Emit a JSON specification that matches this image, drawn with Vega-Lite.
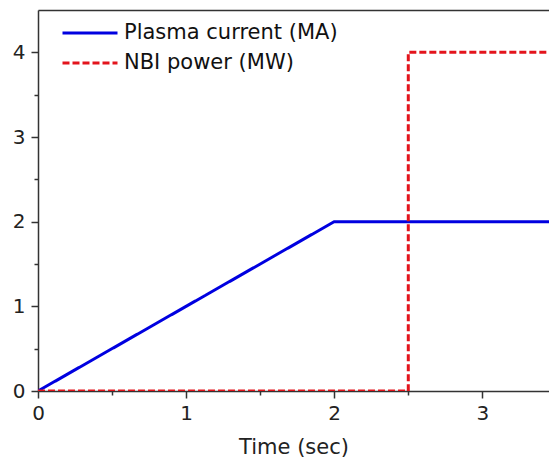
{
  "$schema": "https://vega.github.io/schema/vega-lite/v6.json",
  "autosize": "none",
  "width": 511,
  "height": 381,
  "padding": {"left": 38, "top": 10, "right": 0, "bottom": 77},
  "background": "white",
  "config": {
    "view": {"stroke": null},
    "font": "DejaVu Sans",
    "axis": {
      "grid": false,
      "labelFlush": false,
      "domainColor": "#333333",
      "domainWidth": 1.5,
      "tickColor": "#333333",
      "tickWidth": 1.5,
      "labelColor": "#222222",
      "titleColor": "#222222",
      "labelFont": "DejaVu Sans",
      "titleFont": "DejaVu Sans",
      "labelFontSize": 20,
      "titleFontSize": 21,
      "titleFontWeight": "normal"
    }
  },
  "data": {
    "values": [
      {"t": 0, "v": 0, "series": "Plasma current (MA)", "i": 0},
      {"t": 2, "v": 2, "series": "Plasma current (MA)", "i": 1},
      {"t": 3.5, "v": 2, "series": "Plasma current (MA)", "i": 2},
      {"t": 0, "v": 0, "series": "NBI power (MW)", "i": 0},
      {"t": 2.5, "v": 0, "series": "NBI power (MW)", "i": 1},
      {"t": 2.5, "v": 4, "series": "NBI power (MW)", "i": 2},
      {"t": 3.5, "v": 4, "series": "NBI power (MW)", "i": 3}
    ]
  },
  "layer": [
    {
      "mark": {"type": "line", "strokeWidth": 3, "clip": true},
      "encoding": {
        "x": {
          "field": "t", "type": "quantitative",
          "scale": {"domain": [0, 3.45], "nice": false, "zero": false},
          "axis": {
            "values": [0, 0.5, 1, 1.5, 2, 2.5, 3],
            "labelExpr": "datum.value % 1 === 0 ? format(datum.value, 'd') : ''",
            "tickSize": {"condition": {"test": "datum.value % 1 !== 0", "value": 4}, "value": 7},
            "labelPadding": 5,
            "title": "Time (sec)",
            "titlePadding": 13
          }
        },
        "y": {
          "field": "v", "type": "quantitative",
          "scale": {"domain": [0, 4.5], "nice": false},
          "axis": {
            "values": [0, 0.5, 1, 1.5, 2, 2.5, 3, 3.5, 4],
            "labelExpr": "datum.value % 1 === 0 ? format(datum.value, 'd') : ''",
            "tickSize": {"condition": {"test": "datum.value % 1 !== 0", "value": 4}, "value": 7},
            "labelPadding": 6,
            "title": null
          }
        },
        "color": {
          "field": "series", "type": "nominal",
          "scale": {"domain": ["Plasma current (MA)", "NBI power (MW)"], "range": ["#0000E0", "#E3141C"]},
          "legend": {
            "title": null,
            "orient": "none",
            "legendX": 23,
            "legendY": 8,
            "symbolType": "stroke",
            "symbolSize": 3025,
            "symbolStrokeWidth": 3,
            "labelFontSize": 21,
            "labelFont": "DejaVu Sans",
            "labelColor": "#111111",
            "labelOffset": 5,
            "labelLimit": 400,
            "clipHeight": 30,
            "rowPadding": 0
          }
        },
        "strokeDash": {
          "field": "series", "type": "nominal",
          "scale": {"domain": ["Plasma current (MA)", "NBI power (MW)"], "range": [[1, 0], [7, 3]]},
          "legend": {
            "title": null,
            "orient": "none",
            "legendX": 23,
            "legendY": 8
          }
        },
        "order": {"field": "i", "type": "quantitative"}
      }
    },
    {
      "mark": {"type": "rule", "opacity": 0},
      "encoding": {
        "x": {
          "datum": 0, "type": "quantitative",
          "axis": {"orient": "top", "labels": false, "ticks": false, "title": null}
        }
      }
    }
  ],
  "resolve": {"axis": {"x": "independent"}}
}
